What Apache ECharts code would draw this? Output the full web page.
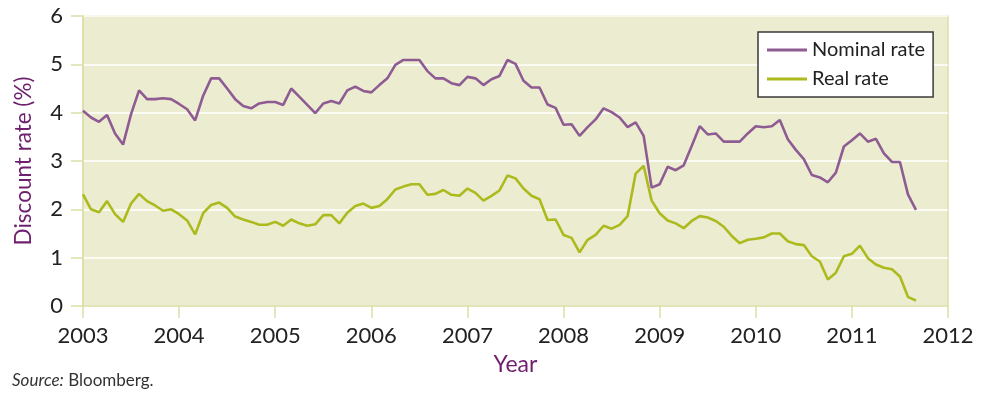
<!DOCTYPE html>
<html>
<head>
<meta charset="utf-8">
<script src="https://cdn.jsdelivr.net/npm/echarts@6/dist/echarts.min.js"></script>
</head>
<body style="margin:0;background:#fff">
<div id="chart" style="width:985px;height:401px"></div>
<script>
// monthly values, Jan 2003 .. Sep 2011
var startYear = 2003;
var nominal = [
  4.04, 3.90, 3.81, 3.95, 3.57, 3.34, 3.97, 4.46, 4.28, 4.28, 4.30, 4.28,
  4.18, 4.07, 3.84, 4.35, 4.71, 4.71, 4.50, 4.28, 4.14, 4.09, 4.19, 4.22,
  4.22, 4.16, 4.50, 4.33, 4.16, 3.99, 4.19, 4.24, 4.19, 4.46, 4.54, 4.45,
  4.42, 4.57, 4.71, 4.99, 5.09, 5.09, 5.09, 4.86, 4.71, 4.71, 4.61, 4.57,
  4.74, 4.71, 4.57, 4.69, 4.76, 5.09, 5.01, 4.66, 4.52, 4.52, 4.17, 4.10,
  3.75, 3.76, 3.52, 3.70, 3.86, 4.09, 4.01, 3.90, 3.70, 3.80, 3.52, 2.45,
  2.52, 2.88, 2.81, 2.91, 3.31, 3.72, 3.55, 3.57, 3.40, 3.40, 3.40, 3.57,
  3.72, 3.70, 3.72, 3.85, 3.45, 3.23, 3.04, 2.71, 2.66, 2.56, 2.76, 3.30,
  3.43, 3.57, 3.40, 3.46, 3.16, 2.98, 2.98, 2.31, 1.99
];
var real = [
  2.31, 2.00, 1.94, 2.17, 1.90, 1.74, 2.12, 2.32, 2.17, 2.08, 1.97, 2.00,
  1.90, 1.77, 1.48, 1.92, 2.09, 2.14, 2.03, 1.85, 1.79, 1.74, 1.68, 1.68,
  1.74, 1.66, 1.79, 1.71, 1.66, 1.69, 1.88, 1.88, 1.71, 1.93, 2.07, 2.12,
  2.03, 2.07, 2.21, 2.41, 2.47, 2.52, 2.52, 2.30, 2.32, 2.40, 2.30, 2.28,
  2.43, 2.34, 2.18, 2.28, 2.39, 2.70, 2.64, 2.43, 2.28, 2.21, 1.78, 1.79,
  1.47, 1.41, 1.11, 1.37, 1.47, 1.66, 1.60, 1.68, 1.86, 2.74, 2.90, 2.18,
  1.92, 1.77, 1.71, 1.61, 1.76, 1.86, 1.83, 1.76, 1.64, 1.45, 1.30, 1.37,
  1.39, 1.42, 1.50, 1.50, 1.34, 1.28, 1.26, 1.03, 0.92, 0.55, 0.69, 1.03,
  1.08, 1.25, 0.99, 0.86, 0.79, 0.76, 0.61, 0.19, 0.11
];
var seriesNames = ['Nominal rate', 'Real rate'];
var colors = ['#8e5b93', '#acba1e'];

function toPoints(vals) {
  return vals.map(function (v, i) { return [startYear + i / 12, v]; });
}

var font = 'Lato, "Noto Sans", sans-serif';
var axisCol = '#dcdea6';

var chart = echarts.init(document.getElementById('chart'), null, { renderer: 'canvas' });
chart.setOption({
  animation: false,
  textStyle: { fontFamily: font },
  grid: {
    left: 83, right: 37, top: 16, bottom: 95,
    show: true, backgroundColor: '#ecedd0', borderColor: axisCol, borderWidth: 1.5
  },
  legend: {
    orient: 'vertical',
    left: 758, top: 32,
    backgroundColor: '#fff',
    borderColor: '#3a3a3a', borderWidth: 1.5, borderRadius: 0,
    padding: [8, 8, 8, 9],
    itemWidth: 40, itemHeight: 3, itemGap: 9,
    icon: 'rect',
    textStyle: { fontSize: 20, color: '#222', fontFamily: font },
    data: seriesNames
  },
  xAxis: {
    type: 'value', min: 2003, max: 2012, interval: 1,
    name: 'Year', nameLocation: 'middle', nameGap: 47,
    nameTextStyle: { fontSize: 23, color: '#6e1f6e' },
    axisLine: { show: true, lineStyle: { color: axisCol, width: 1.5 } },
    axisTick: { show: true, length: 12, lineStyle: { color: axisCol, width: 1.5 } },
    axisLabel: { fontSize: 22, color: '#222', margin: 19, formatter: function (v) { return String(v); } },
    splitLine: { show: false }
  },
  yAxis: {
    type: 'value', min: 0, max: 6, interval: 1,
    name: 'Discount rate (%)', nameLocation: 'middle', nameGap: 48,
    nameTextStyle: { fontSize: 22.5, color: '#6e1f6e' },
    axisLine: { show: true, lineStyle: { color: axisCol, width: 1.5 } },
    axisTick: { show: true, length: 12, lineStyle: { color: axisCol, width: 1.5 } },
    axisLabel: { fontSize: 22, color: '#222', margin: 20 },
    splitLine: { show: true, lineStyle: { color: '#ffffff', width: 1.5 } }
  },
  graphic: [{
    type: 'text', left: 12, top: 372,
    style: {
      text: '{i|Source:} Bloomberg.',
      rich: {
        i: { fontStyle: 'italic', fontSize: 17, fill: '#333', fontFamily: font }
      },
      fontSize: 17, fill: '#333', fontFamily: font
    }
  }],
  series: [
    {
      name: seriesNames[0], type: 'line', symbol: 'none',
      lineStyle: { color: colors[0], width: 2.6 }, itemStyle: { color: colors[0] },
      data: toPoints(nominal)
    },
    {
      name: seriesNames[1], type: 'line', symbol: 'none',
      lineStyle: { color: colors[1], width: 2.6 }, itemStyle: { color: colors[1] },
      data: toPoints(real)
    }
  ]
});
</script>
</body>
</html>
